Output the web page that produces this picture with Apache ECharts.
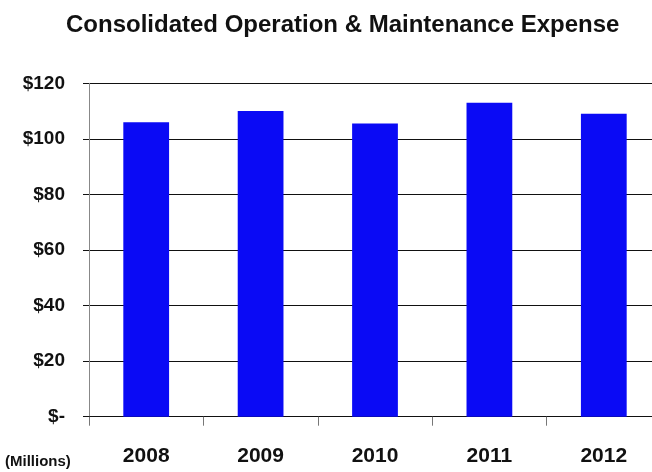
<!DOCTYPE html>
<html>
<head>
<meta charset="utf-8">
<script src="https://cdn.jsdelivr.net/npm/echarts@6/dist/echarts.min.js"></script>
<style>
  html, body { margin: 0; padding: 0; background: #fff; }
  #chart { width: 652px; height: 472px; }
</style>
</head>
<body>
<div id="chart"></div>
<script>
// Consolidated O&M expense, $ millions
const years = ['2008', '2009', '2010', '2011', '2012'];
const expense = [106, 110, 105.5, 113, 109];
const yTicks = [0, 20, 40, 60, 80, 100, 120];

const chart = echarts.init(document.getElementById('chart'));
const fontFamily = '"Liberation Sans", Arial, sans-serif';

chart.setOption({
  backgroundColor: '#ffffff',
  animation: false,
  title: {
    text: 'Consolidated Operation & Maintenance Expense',
    left: 61,
    top: 8,
    textStyle: { fontFamily, fontSize: 24, fontWeight: 'bold', color: '#111' }
  },
  graphic: [{
    type: 'text',
    left: 5,
    top: 454,
    style: { text: '(Millions)', font: 'bold 15px ' + fontFamily, fill: '#111' }
  }],
  // plot area runs a little past the right edge of the canvas
  grid: {
    left: 89, width: 572, top: 83.3, bottom: 55.3,
    containLabel: false, outerBoundsMode: 'none'
  },
  xAxis: {
    type: 'category',
    data: years,
    axisLine: { show: true, lineStyle: { color: '#111', width: 1 } },
    axisTick: { show: true, length: 9, lineStyle: { color: '#777' } },
    axisLabel: { margin: 29, fontFamily, fontSize: 21, fontWeight: 'bold', color: '#111' }
  },
  yAxis: {
    type: 'value',
    min: yTicks[0],
    max: yTicks[yTicks.length - 1],
    interval: 20,
    axisLine: { show: true, lineStyle: { color: '#888', width: 1 } },
    axisTick: { show: true, length: 6, lineStyle: { color: '#111' } },
    splitLine: { show: true, lineStyle: { color: '#111', width: 1 } },
    axisLabel: {
      margin: 24,
      fontFamily, fontSize: 19, fontWeight: 'bold', color: '#111',
      formatter: v => (v === 0 ? '$-' : '$' + v)
    }
  },
  series: [{
    type: 'bar',
    data: expense,
    barWidth: '40%',
    itemStyle: { color: '#0a0af5' }
  }]
});
</script>
</body>
</html>
